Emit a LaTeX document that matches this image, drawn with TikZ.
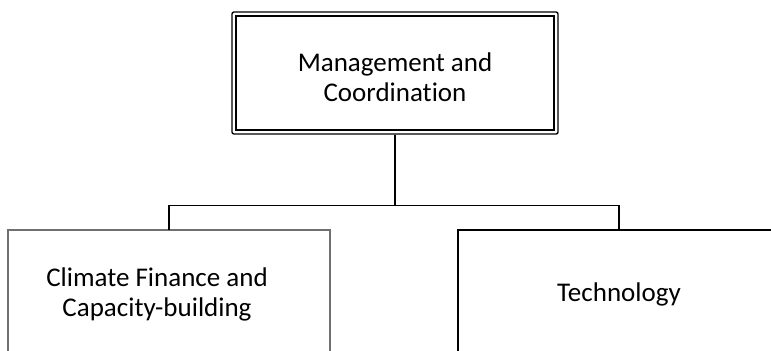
\documentclass[tikz,border=0pt]{standalone}
\usepackage{fontspec}
\setmainfont{Carlito}[Ligatures=NoCommon]
\usetikzlibrary{positioning,fit}
\definecolor{boxgray}{RGB}{112,112,112}

\begin{document}
\begin{tikzpicture}[x=0.75pt,y=-0.75pt,
box/.style={rectangle,draw,align=center,inner sep=0pt,outer sep=0pt,font=\fontsize{20.25}{22.5}\selectfont},
edge/.style={line width=1pt}]
\useasboundingbox (0,0) rectangle (771,350);

% nodes
\node[box,line width=1.9pt,minimum width=238.5pt,minimum height=85.5pt](mgmt) at (395,73){\rule{0pt}{21pt}Management and\\Coordination};
\node[draw,line width=1pt,rounded corners=1.5pt,fit=(mgmt),inner sep=3pt](mgmtframe){};

\node[box,draw=boxgray,line width=1pt,minimum width=241.5pt,minimum height=96pt](finance) at (169,294){Climate Finance and\hspace*{18pt}\\Capacity-building\hspace*{18pt}};
\node[box,right=96pt of finance,line width=1pt,minimum width=241.5pt,minimum height=96pt](tech){Technology};

% connectors
\coordinate (bar) at (395,205.5);
\draw[edge] (mgmtframe.south) -- (bar);
\draw[edge] (finance.north) |- (bar) -| (tech.north);
\end{tikzpicture}
\end{document}
